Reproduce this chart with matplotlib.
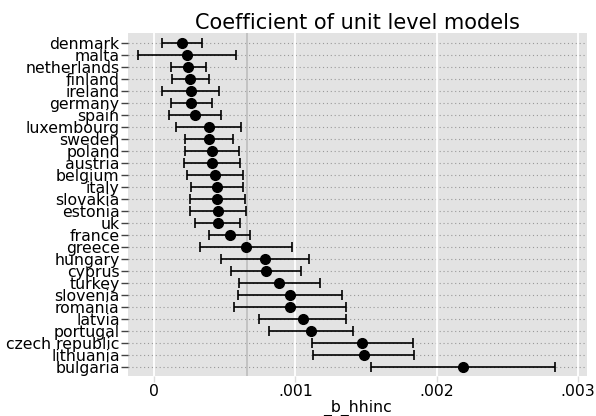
import numpy as np
import matplotlib
matplotlib.use("Agg")
import matplotlib.pyplot as plt

# countries, top to bottom
countries = ["denmark", "malta", "netherlands", "finland", "ireland", "germany",
             "spain", "luxembourg", "sweden", "poland", "austria", "belgium",
             "italy", "slovakia", "estonia", "uk", "france", "greece", "hungary",
             "cyprus", "turkey", "slovenia", "romania", "latvia", "portugal",
             "czech republic", "lithuania", "bulgaria"]
coef = [0.000200, 0.000236, 0.000243, 0.000255, 0.000260, 0.000262,
        0.000292, 0.000387, 0.000392, 0.000410, 0.000410, 0.000434,
        0.000443, 0.000448, 0.000450, 0.000450, 0.000535, 0.000653, 0.000786,
        0.000793, 0.000887, 0.000963, 0.000963, 0.001052, 0.001111,
        0.001474, 0.001484, 0.002185]
lower = [0.000059, -0.000116, 0.000118, 0.000127, 0.000059, 0.000118,
         0.000104, 0.000153, 0.000222, 0.000219, 0.000212, 0.000236,
         0.000260, 0.000257, 0.000252, 0.000292, 0.000389, 0.000326, 0.000474,
         0.000543, 0.000599, 0.000592, 0.000568, 0.000745, 0.000814,
         0.001116, 0.001123, 0.001536]
upper = [0.000342, 0.000583, 0.000368, 0.000387, 0.000460, 0.000408,
         0.000476, 0.000618, 0.000559, 0.000602, 0.000606, 0.000630,
         0.000628, 0.000644, 0.000653, 0.000609, 0.000677, 0.000979, 0.001097,
         0.001043, 0.001173, 0.001328, 0.001357, 0.001361, 0.001406,
         0.001835, 0.001842, 0.002836]
ref_line = 0.000658
xticks = [0, 0.001, 0.002, 0.003]
xticklabels = ["0", ".001", ".002", ".003"]

coef = np.array(coef)
lower = np.array(lower)
upper = np.array(upper)
ypos = np.arange(len(countries))[::-1]

fig = plt.figure(figsize=(5.96, 4.16), dpi=100)
ax = fig.add_axes([128 / 596, 1 - 376 / 416, 459 / 596, 343 / 416])
ax.set_facecolor("#e3e3e3")
for s in ax.spines.values():
    s.set_visible(False)

for y in ypos:
    ax.axhline(y, color="#999999", linestyle=(0, (1, 2.5)), linewidth=0.8, zorder=1)

ax.axvline(ref_line, color="#bdbdbd", linewidth=1.2, zorder=1.2)
for xt in xticks:
    ax.axvline(xt, color="white", linewidth=1.3, zorder=1.5)

ax.errorbar(coef, ypos, xerr=[coef - lower, upper - coef], fmt="o",
            color="black", markersize=7, capsize=3.5, elinewidth=1.2,
            capthick=1.2, zorder=3)

ax.set_xlim(-0.000184, 0.003064)
ax.set_ylim(-0.78, len(countries) - 0.2)
ax.set_yticks(ypos)
ax.set_yticklabels(countries, fontsize=11.3)
ax.set_xticks(xticks)
ax.set_xticklabels(xticklabels, fontsize=11.3)
ax.tick_params(axis="y", length=5, width=1, color="#444444", pad=1)
ax.tick_params(axis="x", length=4, width=1, color="#dddddd", pad=2)
ax.set_xlabel("_b_hhinc", fontsize=11.3, labelpad=0)
ax.set_title("Coefficient of unit level models", fontsize=15, pad=3)

fig.savefig("out.png", dpi=100)
